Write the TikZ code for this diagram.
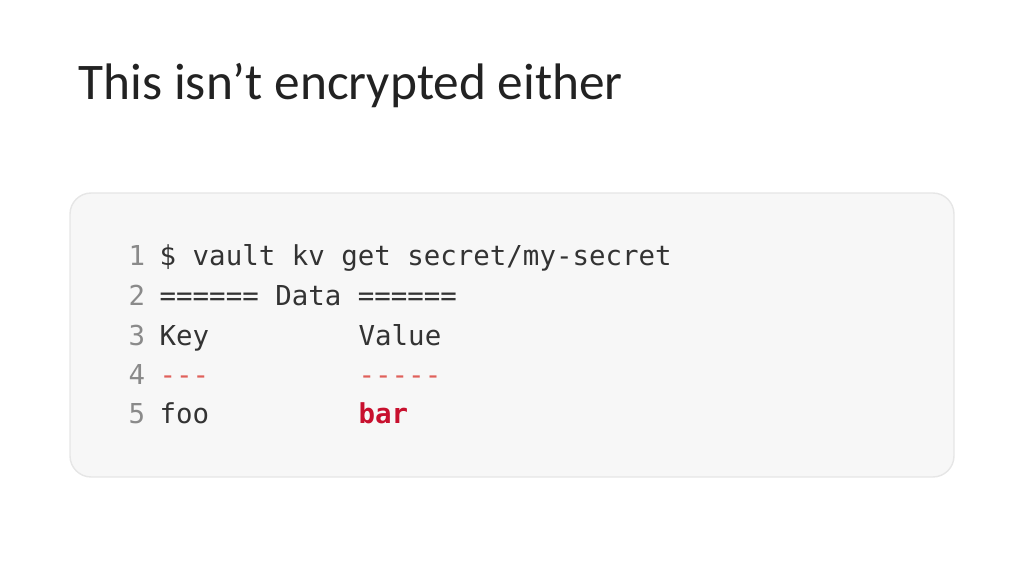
\documentclass[tikz,border=0pt]{standalone}
\usepackage{fontspec}
\setmainfont{Carlito}
\newfontfamily\codefont{DejaVu Sans Mono}
\definecolor{boxfill}{HTML}{F7F7F7}
\definecolor{boxline}{HTML}{E6E6E6}
\definecolor{linenum}{HTML}{8A8A8A}
\definecolor{codetext}{HTML}{333333}
\definecolor{dashred}{HTML}{E0605A}
\definecolor{valred}{HTML}{C8102E}
\begin{document}
\begin{tikzpicture}
        [x=0.01cm,y=-0.01cm,
        titletext/.style={anchor=base west,inner sep=0pt,font=\fontsize{14.6}{16}\selectfont\addfontfeature{Color=222222}},%
        codeline/.style={anchor=base west,inner sep=0pt,font=\codefont\fontsize{7.8}{9}\selectfont,text=codetext},%
        numtext/.style={codeline,text=linenum}]
        \useasboundingbox (0,0) rectangle (1024,576);
        %% title
        \node (title) [titletext] at (78,100) {This isn’t encrypted either};
        %% code box
        \draw[boxline,fill=boxfill,rounded corners=6pt] (70,193) rectangle (954,477);
        %% line numbers
        \foreach \num/\y in {1/266, 2/305, 3/345, 4/384, 5/423}
        {
          \node (num\num) [numtext] at (128,\y) {\num};
        }
        %% code
        \node (cmd) [codeline] at (159,266) {\$ vault kv get secret/my-secret};
        \node (head) [codeline] at (159,305) {====== Data ======};
        \node (key) [codeline] at (159,345) {Key};
        \node (value) [codeline] at (358,345) {Value};
        \node (keydash) [codeline,text=dashred] at (159,384) {---};
        \node (valdash) [codeline,text=dashred] at (358,384) {-----};
        \node (foo) [codeline] at (159,423) {foo};
        \node (bar) [codeline,text=valred,font=\codefont\bfseries\fontsize{7.8}{9}\selectfont] at (358,423) {bar};
\end{tikzpicture}
\end{document}
